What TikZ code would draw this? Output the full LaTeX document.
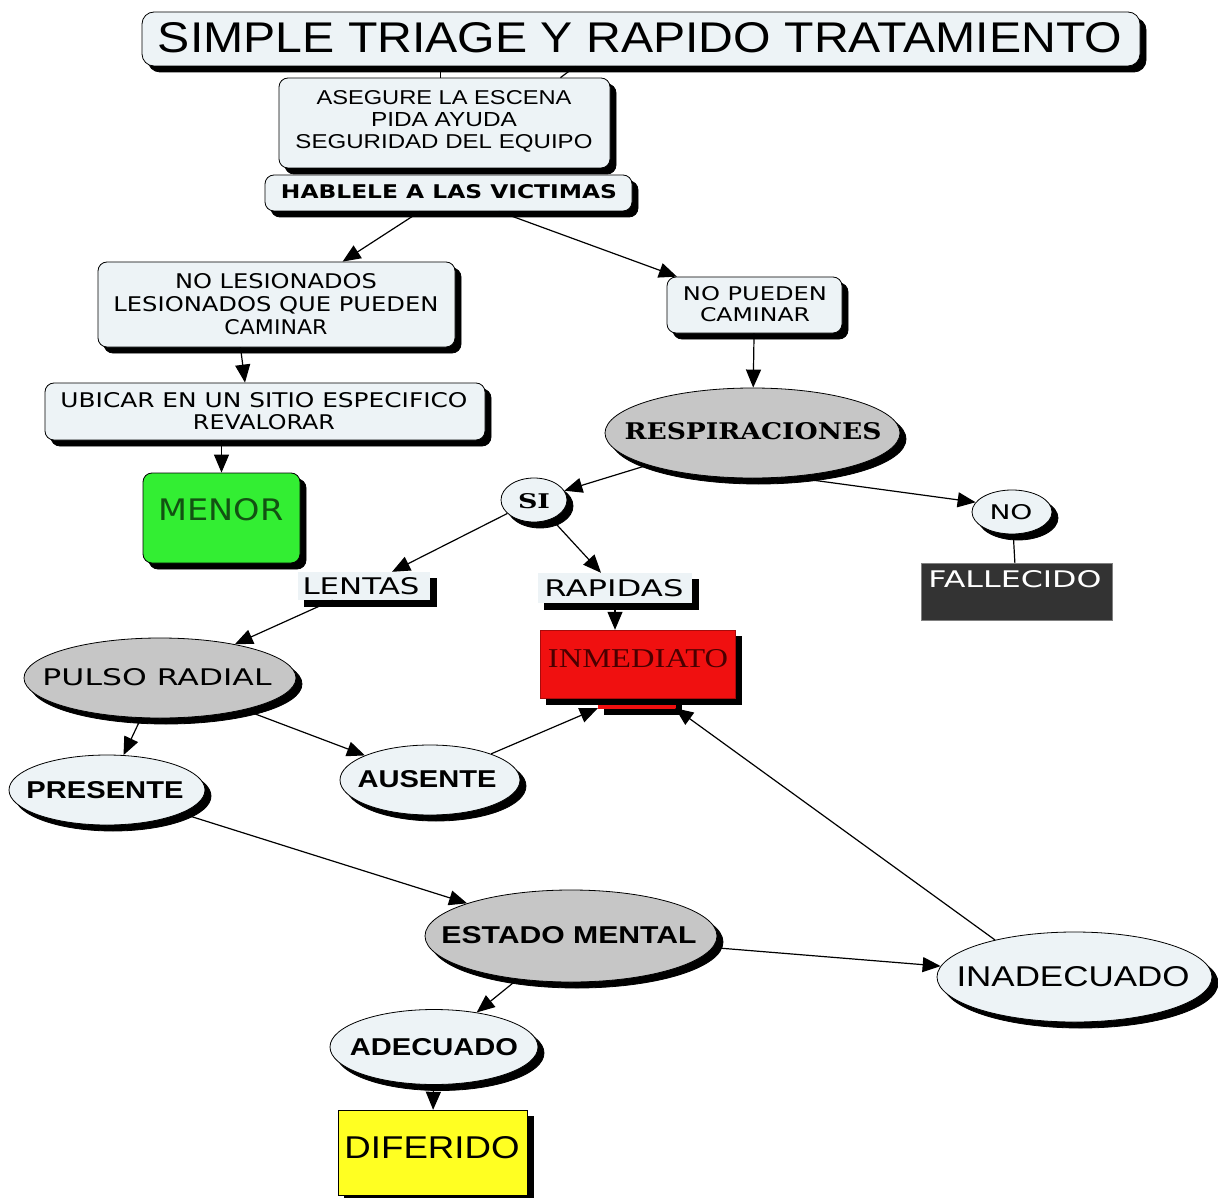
\documentclass[tikz,border=0pt]{standalone}
\usepackage{fontspec}
\usepackage{graphicx}
\setmainfont{DejaVu Sans}
\newfontfamily\tah{Liberation Sans}
\newfontfamily\tms{Liberation Serif}
\newfontfamily\dser{DejaVu Serif}
\usetikzlibrary{shapes.geometric,arrows.meta,shadows}
\definecolor{boxfill}{HTML}{EDF3F6}
\definecolor{gfill}{HTML}{C6C6C6}
\definecolor{menorg}{HTML}{33EE33}
\definecolor{menort}{HTML}{125212}
\definecolor{inmred}{HTML}{F01010}
\definecolor{inmtxt}{HTML}{4A0000}
\definecolor{difyel}{HTML}{FFFF22}
\definecolor{falldk}{HTML}{333333}
\newcommand\tx[3]{\resizebox{#1pt}{#2pt}{#3}}
\begin{document}
\begin{tikzpicture}[x=1pt,y=-1pt,
  shad/.style={copy shadow={shadow xshift=6pt,shadow yshift=-6pt,fill=black,draw=black}},
  rbox/.style={rectangle,rounded corners=9pt,draw=black,line width=0.8pt,fill=boxfill,shad,inner sep=0pt},
  sbox/.style={rectangle,draw=none,fill=boxfill,shad,inner sep=0pt},
  ell/.style={ellipse,draw=black,line width=0.8pt,fill=boxfill,shad,inner sep=0pt},
  gell/.style={ell,fill=gfill},
  txt/.style={inner sep=0pt,align=center},
  arr/.style={line width=1.2pt,-{Triangle[length=18pt,width=15pt]}},
  ln/.style={line width=1.2pt}]
\fill[white] (0,0) rectangle (1218,1198);
\useasboundingbox (0,0) rectangle (1218,1198);

% title
\node[rbox,rounded corners=12pt,minimum width=998pt,minimum height=54pt] (title) at (641,39) {};
\node[txt,font=\tah] (title-t) at (640,38) {\tx{964}{30}{SIMPLE TRIAGE Y RAPIDO TRATAMIENTO}};

% asegure
\node[rbox,minimum width=331pt,minimum height=90pt] (aseg) at (444.5,123) {};
\node[txt,font=\tah\fontsize{10}{22}\selectfont] (aseg-t) at (444,121)
  {\tx{255}{14}{ASEGURE LA ESCENA}\\\tx{146}{14}{PIDA AYUDA}\\\tx{297}{14}{SEGURIDAD DEL EQUIPO}};

% hablele
\node[rbox,minimum width=367pt,minimum height=36pt] (hab) at (448.5,193) {};
\node[txt,font=\bfseries] (hab-t) at (449,192) {\tx{336}{14}{HABLELE A LAS VICTIMAS}};

% no lesionados
\node[rbox,minimum width=357pt,minimum height=85pt] (noles) at (276.5,304.5) {};
\node[txt,font=\fontsize{10}{23}\selectfont] (noles-t) at (276,304)
  {\tx{202}{15}{NO LESIONADOS}\\\tx{325}{15}{LESIONADOS QUE PUEDEN}\\\tx{103}{15}{CAMINAR}};

% no pueden
\node[rbox,minimum width=175pt,minimum height=56pt] (nopue) at (754.5,305) {};
\node[txt,font=\fontsize{10}{21}\selectfont] (nopue-t) at (755,304.5)
  {\tx{144}{14}{NO PUEDEN}\\\tx{110}{14}{CAMINAR}};

% ubicar
\node[rbox,minimum width=440pt,minimum height=57pt] (ubi) at (265,411.5) {};
\node[txt,font=\fontsize{10}{22}\selectfont] (ubi-t) at (264,411)
  {\tx{407}{15}{UBICAR EN UN SITIO ESPECIFICO}\\\tx{142}{15}{REVALORAR}};

% menor
\node[rbox,fill=menorg,minimum width=157pt,minimum height=90pt] (menor) at (221.5,518) {};
\node[txt,text=menort] (menor-t) at (221,510) {\tx{125}{22}{MENOR}};

% respiraciones
\node[gell,minimum width=295pt,minimum height=90pt] (resp) at (752.5,433) {};
\node[txt,font=\dser\bfseries] (resp-t) at (753,431) {\tx{257}{17}{RESPIRACIONES}};

% si / no
\node[ell,minimum width=66pt,minimum height=44pt] (si) at (534,500) {};
\node[txt,font=\dser\bfseries] (si-t) at (534,501) {\tx{32}{15}{SI}};
\node[ell,minimum width=80pt,minimum height=44pt] (no) at (1012,512) {};
\node[txt] (no-t) at (1011,512) {\tx{43}{15}{NO}};

% fallecido
\node[rectangle,draw=gray,fill=falldk,minimum width=191pt,minimum height=57pt,inner sep=0pt] (fall) at (1016.5,591.5) {};
\node[txt,text=white] (fall-t) at (1015,579) {\tx{173}{17}{FALLECIDO}};

% lentas / rapidas
\node[sbox,minimum width=132pt,minimum height=28pt] (lent) at (364,586) {};
\node[txt] (lent-t) at (361,586) {\tx{117}{17}{LENTAS}};
\node[sbox,minimum width=154pt,minimum height=30pt] (rap) at (615,588) {};
\node[txt] (rap-t) at (614,588) {\tx{139}{17}{RAPIDAS}};

% inmediato
\node[rectangle,fill=inmred,draw=inmred,shad,minimum width=77pt,minimum height=18pt,inner sep=0pt] (inm2) at (636.5,699) {};
\node[rectangle,fill=inmred,draw=inmred!70!black,shad,minimum width=195pt,minimum height=68pt,inner sep=0pt] (inm) at (637.5,664) {};
\node[txt,font=\tms,text=inmtxt] (inm-t) at (638,659) {\tx{180}{18}{INMEDIATO}};

% pulso radial etc
\node[gell,minimum width=272pt,minimum height=80pt] (pulso) at (160,678) {};
\node[txt] (pulso-t) at (157,677) {\tx{229}{17}{PULSO RADIAL}};
\node[ell,minimum width=196pt,minimum height=70pt] (pres) at (107,790) {};
\node[txt,font=\tah\bfseries] (pres-t) at (105,790) {\tx{157}{17}{PRESENTE}};
\node[ell,minimum width=180pt,minimum height=70pt] (aus) at (430,780) {};
\node[txt,font=\tah\bfseries] (aus-t) at (427,779) {\tx{139}{17}{AUSENTE}};
\node[gell,minimum width=292pt,minimum height=92pt] (est) at (571,936) {};
\node[txt,font=\tah\bfseries] (est-t) at (569,935) {\tx{255}{17}{ESTADO MENTAL}};
\node[ell,minimum width=275pt,minimum height=90pt] (inad) at (1074.5,977) {};
\node[txt,font=\tah] (inad-t) at (1073,977) {\tx{233}{20}{INADECUADO}};
\node[ell,minimum width=208pt,minimum height=75pt] (adec) at (434,1047) {};
\node[txt,font=\tah\bfseries] (adec-t) at (434,1047) {\tx{168}{17}{ADECUADO}};
\node[rectangle,draw=black,fill=difyel,shad,minimum width=189pt,minimum height=85pt,inner sep=0pt] (dif) at (432.5,1152.5) {};
\node[txt,font=\tah] (dif-t) at (432,1148) {\tx{175}{22}{DIFERIDO}};

% connectors
\draw[ln] ([xshift=-4pt]aseg.north) -- ([xshift=-4pt]aseg.north |- title.south);
\draw[ln] ([xshift=116pt]aseg.north) -- ([xshift=131pt]aseg.north |- title.south);
\draw[arr] (hab) -- (noles);
\draw[arr] (hab) -- (nopue);
\draw[arr] ([xshift=-36pt]noles.south) -- ([xshift=-20pt]ubi.north);
\draw[arr] (ubi.south -| menor) -- (menor.north);
\draw[arr] (nopue) -- (resp);
\draw[arr] (resp) -- (si);
\draw[arr] (resp.-50) -- (no.165);
\draw[ln] (no) -- (fall);
\draw[arr] (si) -- (lent);
\draw[arr] (si) -- (rap);
\draw[arr] (lent) -- (pulso);
\draw[arr] (rap.south) -- (rap.south |- inm.north);
\draw[arr] (pulso) -- (pres);
\draw[arr] (pulso) -- (aus);
\draw[arr] (aus) -- (inm2.south west);
\draw[arr] (inad.155) -- (inm2.south east);
\draw[arr] (pres) -- (est);
\draw[arr] (est) -- (inad);
\draw[arr] (est) -- (adec);
\draw[arr] (adec) -- (dif);
\end{tikzpicture}
\end{document}
